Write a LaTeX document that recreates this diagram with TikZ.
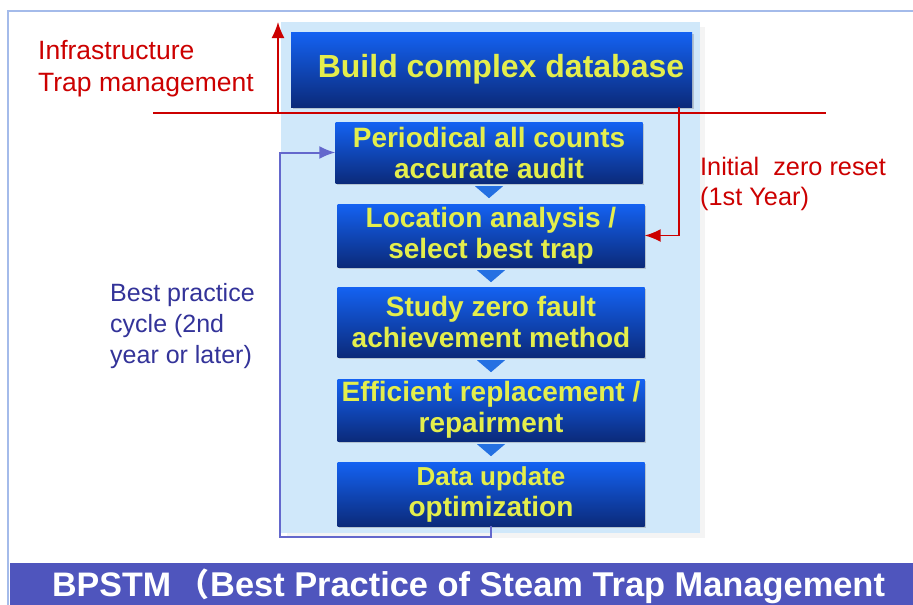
\documentclass[tikz,border=0pt]{standalone}
\usepackage{fontspec}
\setmainfont{Liberation Sans}
\newfontfamily\cjk{Noto Sans CJK SC}
\usetikzlibrary{calc,shadows,arrows.meta}
\definecolor{framec}{HTML}{A4BBEA}
\definecolor{panelc}{HTML}{D0E8FA}
\definecolor{boxtop}{HTML}{1462F2}
\definecolor{boxbot}{HTML}{0B2A7A}
\definecolor{txtyel}{HTML}{E4EE4C}
\definecolor{redc}{HTML}{CC0000}
\definecolor{loopc}{HTML}{6468CC}
\definecolor{cyclec}{HTML}{333399}
\definecolor{tric}{HTML}{2470E2}
\definecolor{bannerc}{HTML}{4F55BD}
\tikzset{
  x=1pt, y=-1pt,
  stepbox/.style={rectangle, minimum width=307pt, inner sep=0pt,
    top color=boxtop, bottom color=boxbot, draw=none,
    drop shadow={shadow xshift=1.5pt, shadow yshift=-1.5pt, opacity=0.35},
    text=txtyel, font=\bfseries\fontsize{28}{31}\selectfont, align=center},
  redlab/.style={text=redc, font=\fontsize{26.5}{32}\selectfont, align=left, anchor=base west, inner sep=0pt},
  redline/.style={draw=redc, line width=1.6pt},
  loopline/.style={draw=loopc, line width=2pt},
  marker/.style={fill=tric, draw=none},
  tip/.style={-{Latex[length=16pt,width=13pt]}},
}
\begin{document}
\begin{tikzpicture}
\useasboundingbox (0,0) rectangle (913,605);
\fill[white] (0,0) rectangle (913,605);

% outer frame
\draw[framec, line width=2pt] (8,605) -- (8,11) -- (913,11);

% light panel behind the flow
\fill[black!8, opacity=0.5] (287,27) rectangle (705,538);
\fill[panelc] (281,22) rectangle (700,533);

% top box
\node[stepbox, minimum width=401pt, minimum height=75pt,
      font=\bfseries\fontsize{32}{34}\selectfont] (db) at (491.5,69.5) {\hspace*{19pt}Build complex database};

% process steps
\node[stepbox, minimum height=61pt] (b1) at (489,152.5)
  {\fontsize{28}{31}\selectfont Periodical all counts\\accurate audit};
\node[stepbox, minimum height=63pt] (b2) at (491,235.5)
  {\fontsize{28}{34}\selectfont Location analysis /\\select best trap};
\node[stepbox, minimum height=70pt] (b3) at (491,322)
  {\fontsize{28}{33}\selectfont Study zero fault\\achievement method};
\node[stepbox, minimum height=62pt] (b4) at (491,410)
  {\fontsize{28}{25}\selectfont Efficient replacement /\\repairment};
\node[stepbox, minimum height=64pt] (b5) at (491,494)
  {\fontsize{26}{25}\selectfont Data update\\optimization};

% down markers between steps
\foreach \u/\v in {b1/b2, b2/b3, b3/b4, b4/b5}{
  \fill[marker] ($(\u.south)+(-14,3)$) -- ($(\u.south)+(14,3)$) -- ($(\u.south)+(0,15)$) -- cycle;
}

% red infrastructure boundary
\coordinate (rl) at (153,113);
\coordinate (rr) at (826,113);
\coordinate (up0) at (278,113);
\coordinate (up1) at (278,22);
\coordinate (rs) at (679,107);
\draw[redline] (rl) -- (rr);
\draw[redline, tip] (up0) -- (up1);
\draw[redline, tip] (rs) |- (b2.east);

% best practice loop
\coordinate (lb) at (280,537);
\draw[loopline, tip] (b5.south) |- (lb) |- (b1.west);

% labels (anchored at the baseline of their last line)
\node[redlab] (infra) at (38,91) {Infrastructure\\Trap management};
\node[redlab, font=\fontsize{25.3}{30}\selectfont] (reset) at (700,205) {Initial\ \ zero reset\\(1st Year)};
\node[redlab, text=cyclec, font=\fontsize{25}{31}\selectfont] (cycle) at (110,363) {Best practice\\cycle (2nd\\year or later)};

% bottom banner
\fill[bannerc] (10,563) rectangle (913,605);
\node[anchor=base west, inner sep=0pt, text=white, font=\bfseries\fontsize{34}{34}\selectfont] (title) at (52,596)
  {BPSTM\hspace{6pt}{\cjk\fontsize{32}{32}\selectfont （}\hspace{1pt}{\fontsize{34.4}{34}\selectfont Best Practice of Steam Trap Management}};
\end{tikzpicture}
\end{document}
